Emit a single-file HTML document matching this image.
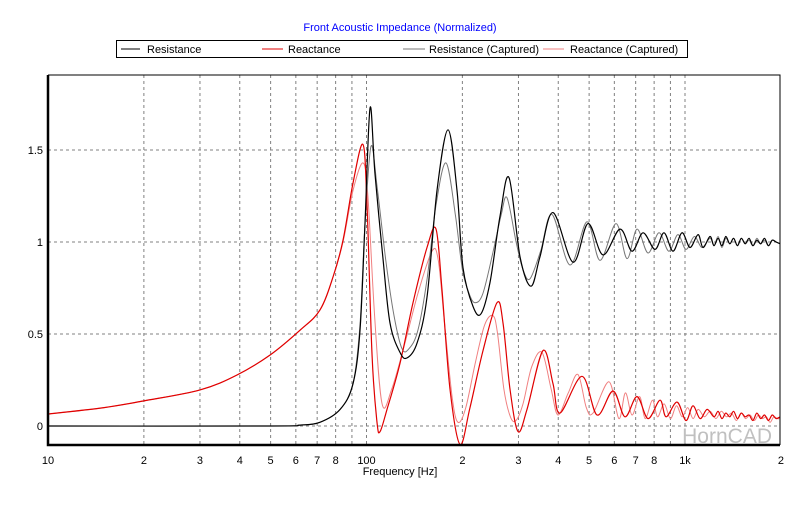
<!DOCTYPE html>
<html><head><meta charset="utf-8">
<style>
body{margin:0;background:#fff;}
svg text{font-family:"Liberation Sans",sans-serif;}
</style></head>
<body>
<svg id="chart" width="800" height="500" viewBox="0 0 800 500" xmlns="http://www.w3.org/2000/svg">
<rect width="800" height="500" fill="#fff"/>
<text x="400" y="31" font-size="11" fill="#0000ff" text-anchor="middle">Front Acoustic Impedance (Normalized)</text>
<g>
<rect x="116.5" y="40.5" width="571" height="17" fill="#fff" stroke="#000" stroke-width="1"/>
<g><line x1="121" y1="49" x2="140" y2="49" stroke="#000"/><text x="147" y="53" font-size="11">Resistance</text></g>
<g><line x1="262" y1="49" x2="283" y2="49" stroke="#e00000"/><text x="288" y="53" font-size="11">Reactance</text></g>
<g><line x1="403" y1="49" x2="425" y2="49" stroke="#777"/><text x="429" y="53" font-size="11">Resistance (Captured)</text></g>
<g><line x1="543" y1="49" x2="564" y2="49" stroke="#f08080"/><text x="570" y="53" font-size="11">Reactance (Captured)</text></g>
</g>
<g id="grid"></g>
<g id="series"></g>
<g id="axes"></g>
<text x="772" y="443" font-size="21" fill="#c0c0c0" text-anchor="end">HornCAD</text>
<text x="400" y="475" font-size="11" text-anchor="middle">Frequency [Hz]</text>
</svg>
<script>
const xTickFreqs=[10,20,30,40,50,60,70,80,100,200,300,400,500,600,700,800,1000,2000];
const xTickLabels=["10","2","3","4","5","6","7","8","100","2","3","4","5","6","7","8","1k","2"];
const xGridFreqs=[20,30,40,50,60,70,80,90,200,300,400,500,600,700,800,900];
const yTicks=[0,0.5,1,1.5];
const yTickLabels=["0","0.5","1","1.5"];

const resFreq=[10,50,61.8,71.4,82.6,90.7,95.4,98.9,102.6,106.3,112.5,118.5,127.4,134.1,144.1,154.9,166.5,180.3,192.4,200.9,216,228.8,244.2,262.5,280.2,303.4,328.5,350.5,385.1,445.1,496.1,552.8,625.2,681.9,738.3,805.3,859.4,917.2,978.6,1037,1099,1139,1198,1233,1270,1306,1343,1382,1421,1461,1502,1545,1589,1634,1680,1728,1777,1827,1879,1932,1990];
const resVal=[0,0,0.005,0.02,0.09,0.23,0.52,1.10,1.73,1.37,0.92,0.56,0.40,0.37,0.45,0.70,1.28,1.61,1.28,0.86,0.65,0.61,0.78,1.14,1.35,0.92,0.76,0.92,1.16,0.89,1.10,0.93,1.07,0.95,1.05,0.96,1.05,0.95,1.05,0.97,1.04,0.97,1.03,0.98,1.02,0.98,1.03,0.99,1.02,0.98,1.02,0.99,1.02,0.98,1.01,0.99,1.02,0.98,1.01,1.0,0.99];

const resCapFreq=[10,50,61.8,71.4,82.6,90.7,95.4,98.9,103.3,108,115,122,129.3,136,145,155,165.3,177.7,190,200,210,219.1,232,250,265,276.1,295,310,326.1,352,382.3,435.5,492.5,541,607.4,657.7,707,765.5,828.9,890,950,1007,1070,1130,1198,1233,1270,1306,1343,1382,1421,1461,1502,1545,1589,1634,1680,1728,1777,1827,1879,1932,1990];
const resCapVal=[0,0,0.005,0.02,0.09,0.23,0.55,1.10,1.52,1.30,0.90,0.60,0.42,0.42,0.52,0.80,1.20,1.43,1.15,0.85,0.72,0.67,0.72,0.95,1.15,1.24,1.0,0.85,0.80,0.95,1.15,0.875,1.11,0.90,1.10,0.91,1.07,0.94,1.05,0.95,1.04,0.96,1.03,0.97,1.02,0.98,1.03,0.97,1.02,0.99,1.02,0.98,1.02,0.99,1.01,0.98,1.02,0.99,1.01,0.98,1.01,1.0,0.99];

const reaFreq=[10,15,19.9,30,39.2,49.8,61.8,71.4,78.5,84.4,90.7,97.5,100.4,104.1,107.9,110.3,116,127.4,140,154.9,165.3,172.6,182.9,196.6,211.3,232.2,256.9,268.3,282.2,299,319.1,358.3,385.1,405.1,475,529.4,594.3,648.2,707,765.5,834.9,872,944.2,1007,1059,1115,1173,1233,1270,1306,1343,1382,1421,1461,1502,1545,1589,1634,1680,1728,1777,1827,1879,1932,1990];
const reaVal=[0.065,0.10,0.136,0.196,0.277,0.386,0.52,0.63,0.81,1.01,1.32,1.53,1.19,0.38,0.02,-0.03,0.09,0.34,0.67,0.97,1.07,0.74,0.20,-0.10,0.10,0.41,0.67,0.56,0.20,-0.03,0.09,0.41,0.23,0.07,0.27,0.06,0.19,0.05,0.16,0.04,0.14,0.05,0.13,0.03,0.11,0.04,0.09,0.05,0.08,0.04,0.07,0.05,0.08,0.04,0.07,0.05,0.06,0.03,0.07,0.04,0.06,0.03,0.06,0.04,0.05];

const reaCapFreq=[10,15,19.9,30,39.2,49.8,61.8,71.4,78.5,84.4,90.7,97.5,101,106,111.9,120,132,145,160.6,168,176,186,193.8,205,220,235,249.6,258,270,283,294.7,310,330,355.6,380,399.3,430,461.5,490,514.3,577.4,620,650,681.9,720,750,790,820,860,900,940,980,1020,1060,1100,1150,1200,1250,1300,1350,1400,1450,1500,1550,1600,1650,1700,1750,1800,1850,1900,1950,1990];
const reaCapVal=[0.065,0.10,0.136,0.196,0.277,0.386,0.52,0.63,0.81,1.0,1.28,1.43,1.25,0.60,0.12,0.20,0.45,0.72,0.95,0.90,0.55,0.15,0.02,0.10,0.35,0.55,0.60,0.50,0.20,0.05,0.03,0.12,0.32,0.40,0.20,0.06,0.18,0.28,0.10,0.07,0.24,0.04,0.18,0.06,0.16,0.04,0.14,0.05,0.12,0.04,0.11,0.05,0.10,0.04,0.09,0.05,0.08,0.04,0.08,0.05,0.07,0.03,0.07,0.04,0.06,0.03,0.06,0.04,0.05,0.02,0.05,0.04,0.04];

const L=48,R=780,T=75,B=445,DEC=318.5;
function xs(f){return L+(Math.log10(f)-1)*DEC;}
function ys(v){return 426-v*184;}
const NS='http://www.w3.org/2000/svg';
function mk(tag,attrs,parent){const e=document.createElementNS(NS,tag);for(const k in attrs)e.setAttribute(k,attrs[k]);parent.appendChild(e);return e;}
const grid=document.getElementById('grid'),axes=document.getElementById('axes'),series=document.getElementById('series');
mk('rect',{x:L,y:T,width:R-L,height:B-T,fill:'#fff'},grid);
xGridFreqs.forEach(f=>{const l=mk('line',{x1:xs(f),x2:xs(f),y1:T,y2:B,stroke:'#808080','stroke-dasharray':'3,3','stroke-width':1},grid);

});
[100,1000].forEach(f=>{const l=mk('line',{x1:xs(f),x2:xs(f),y1:T,y2:B,stroke:'#808080','stroke-dasharray':'3,3'},grid);

});
yTicks.forEach((v,i)=>{const l=mk('line',{x1:L,x2:R,y1:ys(v),y2:ys(v),stroke:'#808080','stroke-dasharray':'3,3'},grid);


const t=mk('text',{x:L-5,y:ys(v)+4,'font-size':11,'text-anchor':'end'},axes);t.textContent=yTickLabels[i];

});
xTickFreqs.forEach((f,i)=>{const t=mk('text',{x:xs(f),y:464,'font-size':11,'text-anchor':'middle'},axes);t.textContent=xTickLabels[i];

});
function line(fr,va,color,name,w){
const P=fr.map((f,i)=>[xs(f),ys(va[i])]);
let d='M'+P[0][0].toFixed(1)+','+P[0][1].toFixed(1);
for(let i=0;i<P.length-1;i++){
const p0=P[Math.max(0,i-1)],p1=P[i],p2=P[i+1],p3=P[Math.min(P.length-1,i+2)];
const k=1/6;
const c1=[p1[0]+(p2[0]-p0[0])*k,p1[1]+(p2[1]-p0[1])*k];
const c2=[p2[0]-(p3[0]-p1[0])*k,p2[1]-(p3[1]-p1[1])*k];
d+='C'+c1[0].toFixed(1)+','+c1[1].toFixed(1)+' '+c2[0].toFixed(1)+','+c2[1].toFixed(1)+' '+p2[0].toFixed(1)+','+p2[1].toFixed(1);}
const p=mk('path',{d:d,fill:'none',stroke:color,'stroke-width':w,'stroke-linejoin':'round'},series);

}
line(reaCapFreq,reaCapVal,'#f08080','reactance-captured-line',1);
line(resCapFreq,resCapVal,'#777777','resistance-captured-line',1);
line(reaFreq,reaVal,'#e00000','reactance-line',1.2);
line(resFreq,resVal,'#000000','resistance-line',1.2);
const fr=mk('path',{d:`M${L},${T}H${R}V${B}`,fill:'none',stroke:'#000','stroke-width':1},axes);


const ax=mk('path',{d:`M${L},${T}V${B}H${R}`,fill:'none',stroke:'#000','stroke-width':2.5},axes);


</script>
</body></html>
